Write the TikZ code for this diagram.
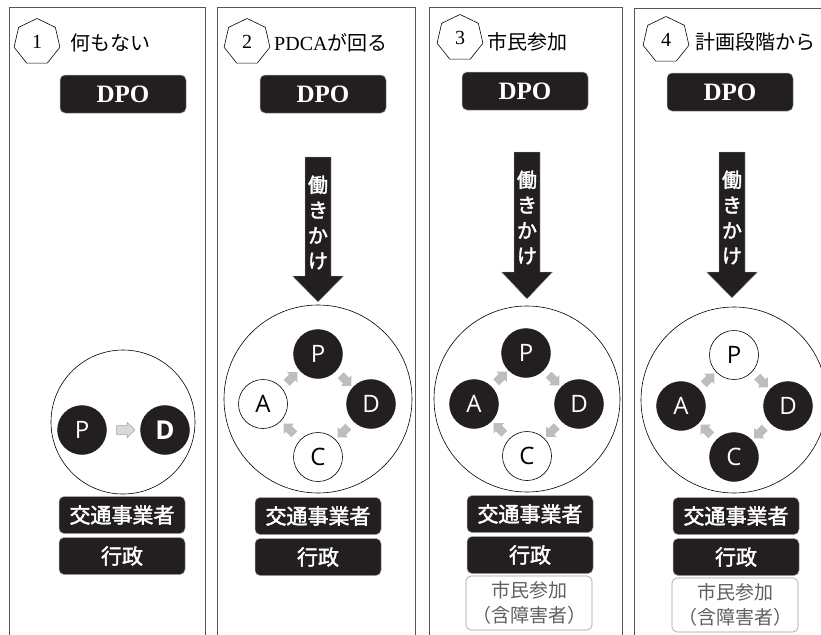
\documentclass[tikz,border=0pt]{standalone}
\usepackage{fontspec}
\setmainfont{Liberation Serif}
\newfontfamily\cjk{Noto Sans CJK JP}
\newfontfamily\cjkb[FakeBold=2]{Noto Sans CJK JP}
\newfontfamily\lat{Open Sans}
\usetikzlibrary{shapes.geometric,shapes.arrows,calc}
\definecolor{dk}{HTML}{231F20}
\definecolor{garrow}{HTML}{BDBDBD}
\definecolor{pline}{HTML}{555555}
\newcommand\pusharrow[5]{%
  \draw[fill=dk, draw=gray!60, line width=0.4pt]
    ({#1-13},#2) -- ({#1+13},#2) -- ({#1+13},#3) -- ({#1+25.5},#3) -- (#1,#4)
    -- ({#1-25.5},#3) -- ({#1-13},#3) -- cycle;
  \node[pushtxt] (#5) at (#1,{#2+65.5}) {働\\き\\か\\け};}
\begin{document}
\begin{tikzpicture}[x=1pt,y=-1pt,
  panel/.style={draw=pline, line width=0.8pt},
  hept/.style={regular polygon, regular polygon sides=7, draw=black, line width=0.6pt,
    minimum size=47pt, inner sep=0pt, font=\fontsize{20}{20}\selectfont},
  ttl/.style={anchor=west, inner sep=0pt, font=\fontsize{20}{20}\selectfont\cjk},
  dpobox/.style={rectangle, rounded corners=5pt, fill=dk, draw=gray!70, line width=0.5pt,
    minimum width=126pt, minimum height=38pt, inner sep=0pt, text=white,
    font=\fontsize{25}{25}\selectfont\bfseries},
  orgbox/.style={rectangle, rounded corners=5pt, fill=dk, draw=gray!70, line width=0.5pt,
    minimum width=126pt, minimum height=37pt, inner sep=0pt, text=white,
    font=\fontsize{21}{21}\selectfont\cjkb},
  citbox/.style={rectangle, rounded corners=5pt, fill=white, draw=gray!75, line width=0.6pt,
    minimum width=126pt, minimum height=54pt, inner sep=0pt, text=gray!75!black, align=center,
    font=\fontsize{19}{25}\selectfont\cjk},
  bigc/.style={circle, draw=black, line width=0.6pt, inner sep=0pt},
  pon/.style={circle, fill=dk, draw=dk, minimum size=49pt, inner sep=0pt, text=white,
    font=\fontsize{24}{24}\selectfont\lat},
  poff/.style={circle, fill=white, draw=black, line width=0.6pt, minimum size=49pt, inner sep=0pt,
    text=black, font=\fontsize{24}{24}\selectfont\lat},
  garr/.style={single arrow, fill=garrow, draw=none, minimum height=15pt, minimum width=14pt,
    single arrow head extend=3pt, inner sep=4pt},
  pushtxt/.style={align=center, text=white, inner sep=0pt,
    font=\fontsize{20}{25.3}\selectfont\cjkb}
]
\useasboundingbox (0,0) rectangle (821,634);
\clip (0,0) rectangle (821,634);
\fill[white] (0,0) rectangle (821,634);

% panels
\draw[panel] (9,7) rectangle (205,660);
\draw[panel] (217,7) rectangle (415,660);
\draw[panel] (429,7) rectangle (622,660);
\draw[panel] (634,8) rectangle (840,660);

% headers
\node[hept] (h1) at (37,42) {1};
\node[ttl] (t1) at (70,43) {何もない};
\node[hept] (h2) at (247,42) {2};
\node[ttl] (t2) at (274,43) {{\rmfamily PDCA}が回る};
\node[hept] (h3) at (460,38) {3};
\node[ttl] (t3) at (487,42) {市民参加};
\node[hept] (h4) at (666,40) {4};
\node[ttl] (t4) at (695,42) {計画段階から};

% DPO
\node[dpobox] (dpo1) at (123,94) {DPO};
\node[dpobox] (dpo2) at (323,94) {DPO};
\node[dpobox] (dpo3) at (525,91) {DPO};
\node[dpobox] (dpo4) at (730,92) {DPO};

% push arrows
\pusharrow{318}{157}{276}{302}{w2}
\pusharrow{527}{152}{272}{299}{w3}
\pusharrow{732}{152}{272}{298}{w4}

% panel 1 circle
\node[bigc, minimum size=144pt] (c1) at (123,422) {};
\node[pon] (p1) at (82,430) {P};
\node[pon, font=\fontsize{26}{26}\selectfont\lat\bfseries] (d1) at (165,430) {D};
\node[single arrow, fill=gray!30, draw=gray!75, line width=0.5pt, minimum height=18pt,
  minimum width=15pt, single arrow head extend=3pt, inner sep=4pt] (g1) at ($(p1)!0.5!(d1)$) {};

% panel 2
\node[bigc, minimum size=188pt] (c2) at (318,399) {};
\node[pon] (p2) at (318,354) {P};
\node[pon] (d2) at (371,404) {D};
\node[poff] (cc2) at (318,457) {C};
\node[poff] (a2) at (263,404) {A};
\node[garr, rotate=-45] (g2pd) at ($(p2)!0.5!(d2)$) {};
\node[garr, rotate=-135] (g2dc) at ($(d2)!0.5!(cc2)$) {};
\node[garr, rotate=135] (g2ca) at ($(cc2)!0.5!(a2)$) {};
\node[garr, rotate=45] (g2ap) at ($(a2)!0.5!(p2)$) {};

% panel 3
\node[bigc, minimum size=186pt] (c3) at (527,399) {};
\node[pon] (p3) at (526,353) {P};
\node[pon] (d3) at (579,404) {D};
\node[poff] (cc3) at (527,456) {C};
\node[pon] (a3) at (474,404) {A};
\node[garr, rotate=-45] (g3pd) at ($(p3)!0.5!(d3)$) {};
\node[garr, rotate=-135] (g3dc) at ($(d3)!0.5!(cc3)$) {};
\node[garr, rotate=135] (g3ca) at ($(cc3)!0.5!(a3)$) {};
\node[garr, rotate=45] (g3ap) at ($(a3)!0.5!(p3)$) {};

% panel 4
\node[bigc, minimum size=186pt] (c4) at (734,400) {};
\node[poff] (p4) at (734,355) {P};
\node[pon] (d4) at (788,406) {D};
\node[pon] (cc4) at (734,457) {C};
\node[pon] (a4) at (681,406) {A};
\node[garr, rotate=-45] (g4pd) at ($(p4)!0.5!(d4)$) {};
\node[garr, rotate=-135] (g4dc) at ($(d4)!0.5!(cc4)$) {};
\node[garr, rotate=135] (g4ca) at ($(cc4)!0.5!(a4)$) {};
\node[garr, rotate=45] (g4ap) at ($(a4)!0.5!(p4)$) {};

% organisation boxes
\node[orgbox] (o1) at (122,515) {交通事業者};
\node[orgbox] (g1b) at (122,556) {行政};
\node[orgbox] (o2) at (318,516) {交通事業者};
\node[orgbox] (g2b) at (318,557) {行政};
\node[orgbox] (o3) at (530,514) {交通事業者};
\node[orgbox] (g3b) at (530,555) {行政};
\node[citbox] (s3) at (529,603) {市民参加\\（含障害者）};
\node[orgbox] (o4) at (736,516) {交通事業者};
\node[orgbox] (g4b) at (736,557) {行政};
\node[citbox] (s4) at (735,605) {市民参加\\（含障害者）};
\end{tikzpicture}
\end{document}
